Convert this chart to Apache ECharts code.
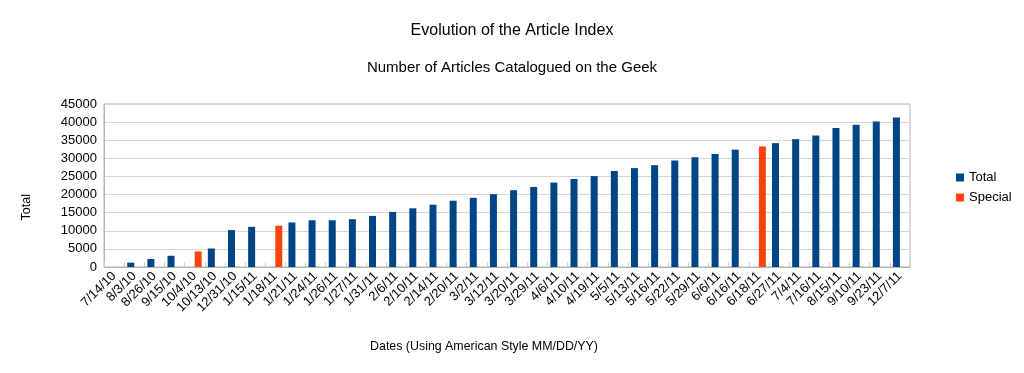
<!DOCTYPE html>
<html>
<head>
<meta charset="utf-8">
<script src="https://cdn.jsdelivr.net/npm/echarts@6/dist/echarts.min.js"></script>
<style>
  html, body { margin: 0; padding: 0; background: #fff; }
  #chart { width: 1024px; height: 373px; }
</style>
</head>
<body>
<div id="chart"></div>
<script>
const categories = ['7/14/10','8/3/10','8/26/10','9/15/10','10/4/10','10/13/10','12/31/10','1/15/11','1/18/11','1/21/11','1/24/11','1/26/11','1/27/11','1/31/11','2/6/11','2/10/11','2/14/11','2/20/11','3/2/11','3/12/11','3/20/11','3/29/11','4/6/11','4/10/11','4/19/11','5/5/11','5/13/11','5/16/11','5/22/11','5/29/11','6/6/11','6/16/11','6/18/11','6/27/11','7/4/11','7/16/11','8/15/11','9/10/11','9/23/11','12/7/11'];
const totalValues = [0,1200,2200,3100,null,5100,10200,11100,null,12300,12900,12900,13200,14100,15200,16200,17200,18300,19100,20100,21200,22100,23300,24300,25100,26500,27300,28100,29400,30300,31200,32400,null,34200,35300,36300,38400,39300,40200,41300];
const specialValues = [null,null,null,null,4300,null,null,null,11400,null,null,null,null,null,null,null,null,null,null,null,null,null,null,null,null,null,null,null,null,null,null,null,33300,null,null,null,null,null,null,null];
const yTicks = { min: 0, max: 45000, interval: 5000 };

const chart = echarts.init(document.getElementById('chart'), null, { renderer: 'canvas' });
const font = '"Liberation Sans", Arial, sans-serif';
chart.setOption({
  animation: false,
  backgroundColor: '#ffffff',
  textStyle: { fontFamily: font, color: '#000' },
  title: [
    { text: 'Evolution of the Article Index', left: 'center', top: 18,
      textStyle: { fontFamily: font, fontSize: 16, fontWeight: 'normal', color: '#000' } },
    { text: 'Number of Articles Catalogued on the Geek', left: 'center', top: 55,
      textStyle: { fontFamily: font, fontSize: 15, fontWeight: 'normal', color: '#000' } }
  ],
  legend: {
    orient: 'vertical', left: 951, top: 166, itemWidth: 8, itemHeight: 8, itemGap: 7,
    icon: 'rect',
    textStyle: { fontFamily: font, fontSize: 13, color: '#000' },
    data: ['Total', 'Special']
  },
  grid: { left: 104, right: 114, top: 104, bottom: 106, show: true, borderColor: '#b3b3b3', borderWidth: 1 },
  xAxis: {
    type: 'category', data: categories,
    name: 'Dates (Using American Style MM/DD/YY)', nameLocation: 'middle', nameGap: 74,
    nameTextStyle: { fontFamily: font, fontSize: 12.4, color: '#000', padding: [0, 46, 0, 0] },
    axisLine: { lineStyle: { color: '#b3b3b3' } },
    axisTick: { show: true, inside: true, length: 5, lineStyle: { color: '#d0d0d0' } },
    axisLabel: { interval: 0, rotate: 45, margin: 7, fontFamily: font, fontSize: 13, color: '#000' }
  },
  yAxis: {
    type: 'value', min: yTicks.min, max: yTicks.max, interval: yTicks.interval,
    axisLine: { show: true, lineStyle: { color: '#b3b3b3' } },
    axisTick: { show: false },
    axisLabel: { margin: 7, fontFamily: font, fontSize: 13, color: '#000', formatter: v => String(v) },
    splitLine: { lineStyle: { color: '#d6d6d6' } }
  },
  graphic: [
    { type: 'text', left: 20, top: 194, rotation: Math.PI / 2,
      style: { text: 'Total', font: '12.5px ' + font, fill: '#000' } }
  ],
  series: [
    { name: 'Total', type: 'bar', data: totalValues, barWidth: 7, barGap: '0%',
      itemStyle: { color: '#004586' } },
    { name: 'Special', type: 'bar', data: specialValues, barWidth: 7, barGap: '0%',
      itemStyle: { color: '#ff420e' } }
  ]
});
</script>
</body>
</html>
